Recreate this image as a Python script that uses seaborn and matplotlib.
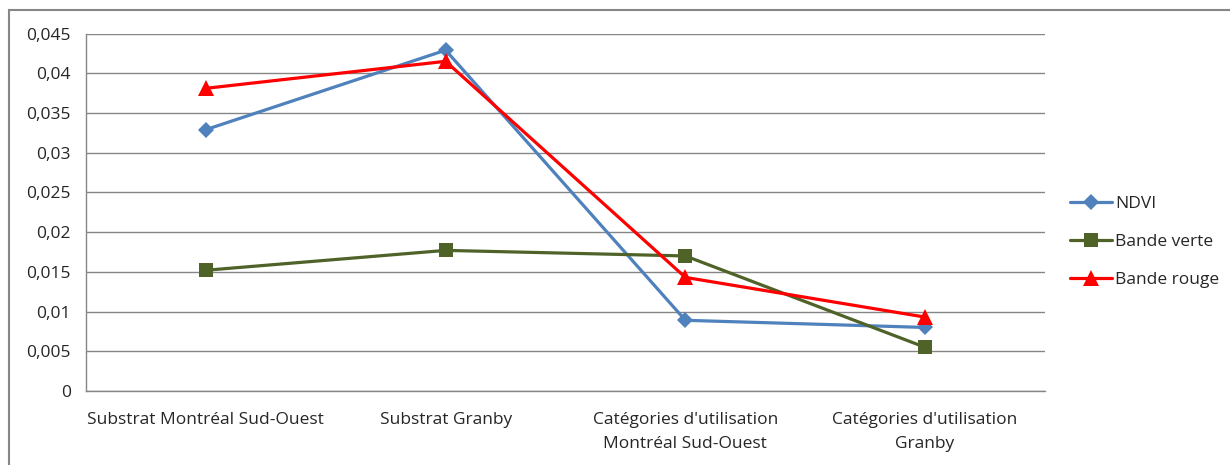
import numpy as np
import pandas as pd
import matplotlib
matplotlib.use("Agg")
import matplotlib.pyplot as plt
import matplotlib.patches as mpatches
from matplotlib.ticker import FixedLocator
import seaborn as sns

CATEGORIES = ["Substrat Montréal Sud-Ouest", "Substrat Granby",
              "Catégories d'utilisation\nMontréal Sud-Ouest",
              "Catégories d'utilisation\nGranby"]
NDVI = [0.0329, 0.0429, 0.0089, 0.0080]
BANDE_VERTE = [0.0152, 0.0177, 0.0170, 0.0055]
BANDE_ROUGE = [0.0381, 0.0415, 0.0143, 0.0093]
SERIES = ["NDVI", "Bande verte", "Bande rouge"]
YTICKS = [0, 0.005, 0.01, 0.015, 0.02, 0.025, 0.03, 0.035, 0.04, 0.045]
YTICK_LABELS = ["0", "0,005", "0,01", "0,015", "0,02", "0,025", "0,03",
                "0,035", "0,04", "0,045"]

COLORS = {"NDVI": "#4F81BD", "Bande verte": "#4F6228", "Bande rouge": "#FF0000"}
MARKERS = {"NDVI": "D", "Bande verte": "s", "Bande rouge": "^"}

rows = []
for name, vals in zip(SERIES, [NDVI, BANDE_VERTE, BANDE_ROUGE]):
    for i, v in enumerate(vals):
        rows.append({"pos": i, "value": v, "serie": name})
df = pd.DataFrame(rows)

sns.set_style("white")
plt.rcParams["font.family"] = ["Open Sans", "DejaVu Sans"]

fig = plt.figure(figsize=(12.3, 4.65), dpi=100)
ax = fig.add_axes([86 / 1230, 1 - 391 / 465, (1045 - 86) / 1230, (391 - 33.5) / 465])

sns.lineplot(data=df, x="pos", y="value", hue="serie", style="serie",
             palette=COLORS, markers=MARKERS, dashes=False, hue_order=SERIES,
             linewidth=2.3, markersize=10, markeredgewidth=0, ax=ax, legend=True)
# triangle slightly bigger like the original
for line in ax.lines:
    if line.get_marker() == "^":
        line.set_markersize(11)
    if line.get_marker() == "D":
        line.set_markersize(8.5)

ax.set_xlim(-0.5, 3.5)
ax.set_ylim(0, 0.045)
ax.set_yticks(YTICKS)
ax.set_yticklabels(YTICK_LABELS, fontsize=12.5, color="#262626")
ax.set_xticks(range(len(CATEGORIES)))
ax.set_xticklabels(CATEGORIES, fontsize=12.5, color="#262626", linespacing=1.65)
ax.xaxis.set_minor_locator(FixedLocator(np.arange(-0.5, 4, 1)))
ax.tick_params(axis="x", which="major", length=0, pad=15)
ax.tick_params(axis="x", which="minor", length=6, color="#868686", width=1)
ax.tick_params(axis="y", length=6, color="#868686", width=1, pad=5)
ax.set_xlabel("")
ax.set_ylabel("")
ax.grid(axis="y", color="#868686", linewidth=1)
ax.set_axisbelow(True)
for s in ["top", "right"]:
    ax.spines[s].set_visible(False)
for s in ["left", "bottom"]:
    ax.spines[s].set_color("#868686")
    ax.spines[s].set_linewidth(1)

leg = ax.legend(loc="upper left", bbox_to_anchor=(1070 / 1230, 1 - 196 / 465),
                bbox_transform=fig.transFigure, frameon=False, fontsize=12.5,
                handlelength=2.4, handletextpad=0.2, labelspacing=1.25,
                borderaxespad=0, borderpad=0)
for h in leg.legend_handles:
    h.set_linewidth(2.3)

frame = mpatches.Rectangle((9 / 1230, -0.1), 1.2, 1 - 10 / 465 + 0.1,
                           transform=fig.transFigure, fill=False,
                           edgecolor="#868686", linewidth=1.5, clip_on=False)
fig.patches.append(frame)

fig.savefig("out.png", dpi=100)
